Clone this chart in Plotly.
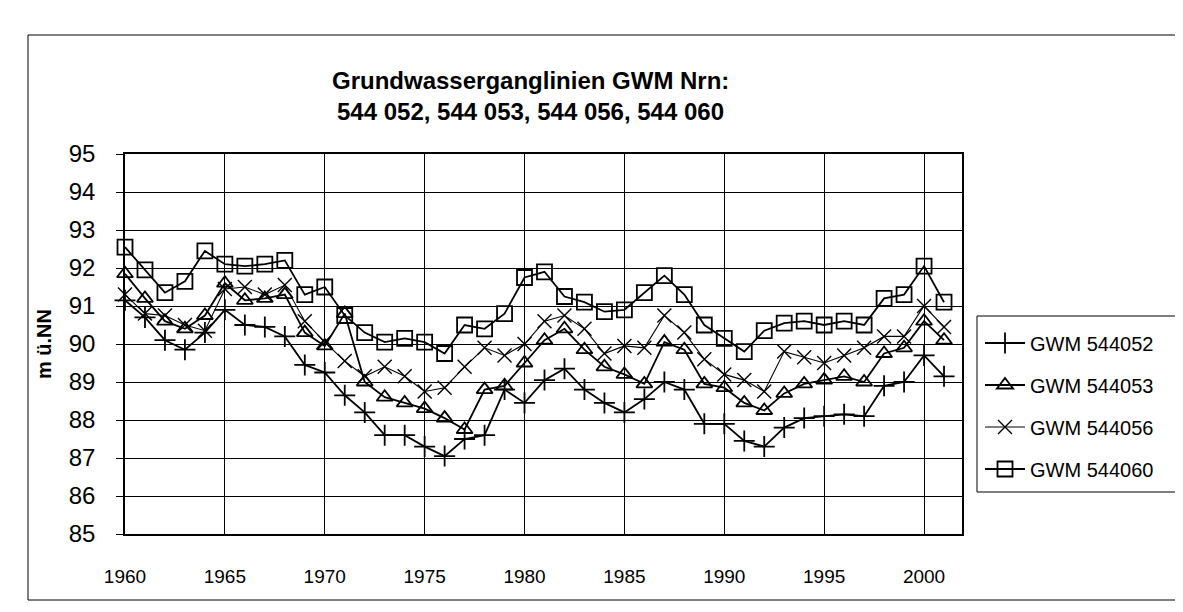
import plotly.graph_objects as go

years = list(range(1960, 2002))

gwm_544052 = [91.15, 90.7, 90.1, 89.85, 90.3, 90.9, 90.5, 90.45, 90.2, 89.45,
              89.25, 88.65, 88.2, 87.6, 87.6, 87.3, 87.05, 87.5, 87.6, 88.8,
              88.45, 89.05, 89.35, 88.8, 88.45, 88.2, 88.55, 89.0, 88.8, 87.9,
              87.9, 87.45, 87.3, 87.8, 88.05, 88.1, 88.15, 88.1, 88.9, 89.0,
              89.7, 89.15]
gwm_544053 = [91.85, 91.2, 90.6, 90.4, 90.75, 91.6, 91.15, 91.2, 91.3, 90.3,
              89.95, 90.8, 89.0, 88.6, 88.45, 88.3, 88.05, 87.75, 88.8, 88.9,
              89.5, 90.1, 90.4, 89.85, 89.4, 89.2, 88.95, 90.05, 89.85, 88.95,
              88.85, 88.45, 88.25, 88.7, 88.95, 89.05, 89.15, 89.0, 89.75, 89.9,
              90.6, 90.1]
gwm_544056 = [91.3, 90.8, 90.75, 90.5, 90.35, 91.45, 91.5, 91.3, 91.55, 90.6,
              90.05, 89.55, 89.15, 89.4, 89.15, 88.75, 88.85, 89.4, 89.9, 89.7,
              90.0, 90.6, 90.75, 90.4, 89.75, 89.95, 89.9, 90.75, 90.3, 89.6,
              89.2, 89.05, 88.75, 89.8, 89.65, 89.5, 89.7, 89.9, 90.2, 90.2,
              91.0, 90.45]
gwm_544060 = [92.55, 91.95, 91.35, 91.65, 92.45, 92.1, 92.05, 92.1, 92.2, 91.3,
              91.5, 90.75, 90.3, 90.05, 90.15, 90.05, 89.75, 90.5, 90.4, 90.8,
              91.75, 91.9, 91.25, 91.1, 90.85, 90.9, 91.35, 91.8, 91.3, 90.5,
              90.15, 89.8, 90.35, 90.55, 90.6, 90.5, 90.6, 90.5, 91.2, 91.3,
              92.05, 91.1]

series_names = ["GWM 544052", "GWM 544053", "GWM 544056", "GWM 544060"]
series_values = [gwm_544052, gwm_544053, gwm_544056, gwm_544060]
x_ticks = [1960, 1965, 1970, 1975, 1980, 1985, 1990, 1995, 2000]
y_ticks = list(range(85, 96))

title_lines = ["Grundwasserganglinien GWM Nrn:", "544 052, 544 053, 544 056, 544 060"]
y_title = "m ü.NN"

W, H = 1183, 612
L, R, T, B = 117, 954, 146, 526

def px(x):
    return (x - L) / (R - L)

def py(y):
    return (B - y) / (B - T)

styles = [
    dict(symbol="cross-thin-open", size=15, lw=1.8, mlw=1.8),
    dict(symbol="triangle-up-open", size=14, lw=1.8, mlw=1.8),
    dict(symbol="x-thin-open", size=14, lw=1.1, mlw=1.4),
    dict(symbol="square-open", size=15, lw=1.8, mlw=1.8),
]

FONT = "Liberation Sans, Arial, sans-serif"

fig = go.Figure()
legend_ids = ["legend", "legend2", "legend3", "legend4"]
for i, (name, vals, st) in enumerate(zip(series_names, series_values, styles)):
    fig.add_trace(go.Scatter(
        x=years, y=vals, name=name, mode="lines+markers",
        line=dict(color="black", width=st["lw"]),
        marker=dict(symbol=st["symbol"], size=st["size"], color="black",
                    line=dict(color="black", width=st["mlw"])),
        legend=legend_ids[i],
        cliponaxis=False,
    ))

legend_rows = [335, 377, 419, 461]
legend_common = dict(font=dict(family=FONT, size=20, color="black"),
                     bgcolor="rgba(0,0,0,0)", borderwidth=0,
                     xanchor="left", yanchor="middle", itemwidth=40)
layout_legends = {}
for lid, row in zip(legend_ids, legend_rows):
    layout_legends[lid] = dict(x=px(972), y=py(row), **legend_common)

fig.update_layout(
    width=W, height=H,
    margin=dict(l=L, r=W - R, t=T, b=H - B),
    paper_bgcolor="white", plot_bgcolor="white",
    font=dict(family=FONT, color="black"),
    showlegend=True,
    **layout_legends,
    xaxis=dict(range=[1960, 2001.9], tickvals=x_ticks, ticktext=[str(v) for v in x_ticks],
               showgrid=True, gridcolor="black", gridwidth=1,
               showline=True, linecolor="black", linewidth=1.5, mirror=True,
               zeroline=False, ticks="", tickfont=dict(family=FONT, size=19),
               ticklabelstandoff=24),
    yaxis=dict(range=[85, 95], tickvals=y_ticks,
               showgrid=True, gridcolor="black", gridwidth=1,
               showline=True, linecolor="black", linewidth=1.5, mirror=True,
               zeroline=False, ticks="outside", ticklen=7, tickcolor="black",
               tickfont=dict(family=FONT, size=24), ticklabelstandoff=16,
               title=dict(text="<b>" + y_title + "</b>", font=dict(family=FONT, size=20),
                          standoff=12)),
    shapes=[
        dict(type="rect", xref="paper", yref="paper",
             x0=px(20), x1=px(1195), y0=py(592), y1=py(27),
             line=dict(color="black", width=1), fillcolor="rgba(0,0,0,0)", layer="below"),
        dict(type="rect", xref="paper", yref="paper",
             x0=px(969), x1=px(1181), y0=py(484), y1=py(308),
             line=dict(color="black", width=1), fillcolor="rgba(0,0,0,0)"),
    ],
    annotations=[
        dict(text="<b>" + title_lines[0] + "</b>", xref="paper", yref="paper",
             x=px(522), y=py(72), showarrow=False, xanchor="center", yanchor="middle",
             font=dict(family=FONT, size=24, color="black")),
        dict(text="<b>" + title_lines[1] + "</b>", xref="paper", yref="paper",
             x=px(522), y=py(103), showarrow=False, xanchor="center", yanchor="middle",
             font=dict(family=FONT, size=24, color="black")),
    ],
)

fig.write_html("out.html")
